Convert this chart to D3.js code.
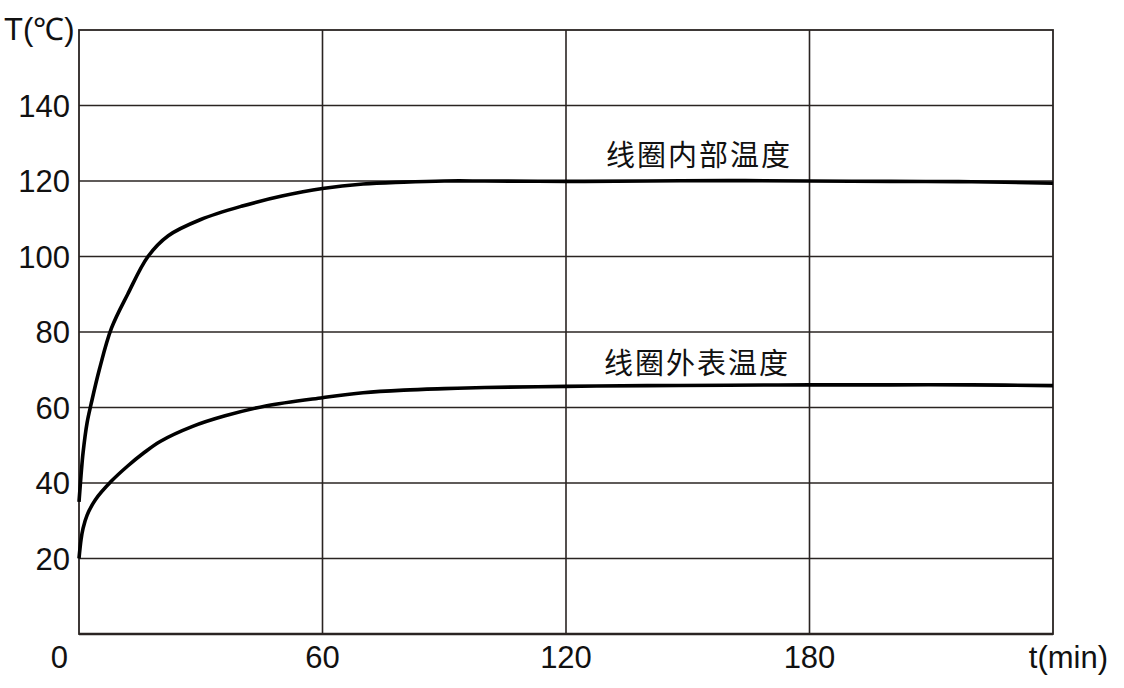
<!DOCTYPE html>
<html><head><meta charset="utf-8">
<script src="https://cdn.jsdelivr.net/npm/d3@7/dist/d3.min.js"></script>
<style>
html,body{margin:0;padding:0;background:#fff;}
svg text{font-family:"Liberation Sans",Arial,sans-serif;fill:#111;}
.cn{font-family:"Noto Sans CJK SC",sans-serif;}
</style></head>
<body>
<svg id="chart" width="1124" height="688"></svg>
<script>
const yTicks = [20,40,60,80,100,120,140];
const xTicks = [60,120,180];
const innerTimes = [0,0.5,1,2,3,5,8,12,17,22,30,40,50,60,70,80,90,100,120,140,160,180,200,220,240];
const innerTemp  = [35,42,48,56,61,70,81,90,100,105.5,109.8,113.3,116,118,119.2,119.7,120,120,119.9,120,120.1,120,119.9,119.8,119.4];
const outerTimes = [0,0.5,1,2,4,8,12,16,20,28,36,46,60,70,80,90,100,120,140,160,180,200,220,240];
const outerTemp  = [20,25,28,31.5,35.5,40.5,44.5,48,51,55,57.8,60.4,62.6,63.9,64.6,65,65.3,65.6,65.8,65.9,66,66,66,65.8];
const innerLabel = "线圈内部温度";
const outerLabel = "线圈外表温度";

const svg = d3.select("#chart");
const L=79, R=1053, T=30, B=634;
const x = d3.scaleLinear().domain([0,240]).range([L,R]);
const y = d3.scaleLinear().domain([0,160]).range([B,T]);

// grid
svg.append("g").selectAll("line").data(yTicks).join("line")
  .attr("x1",L).attr("x2",R).attr("y1",d=>y(d)).attr("y2",d=>y(d))
  .attr("stroke","#2a2422").attr("stroke-width",1.6);
svg.append("g").selectAll("line").data(xTicks).join("line")
  .attr("y1",T).attr("y2",B).attr("x1",d=>x(d)).attr("x2",d=>x(d))
  .attr("stroke","#2a2422").attr("stroke-width",1.6);
// frame
svg.append("rect").attr("x",L).attr("y",T).attr("width",R-L).attr("height",B-T)
  .attr("fill","none").attr("stroke","#2a2422").attr("stroke-width",1.8);
svg.append("line").attr("x1",L).attr("x2",R).attr("y1",B).attr("y2",B)
  .attr("stroke","#2a2422").attr("stroke-width",2.4);

// y tick labels
svg.append("g").selectAll("text").data(yTicks).join("text")
  .attr("x",L-9).attr("y",d=>y(d)).attr("dy","0.36em").attr("text-anchor","end")
  .attr("font-size",31).text(d=>d);
// x tick labels
svg.append("g").selectAll("text").data(xTicks).join("text")
  .attr("x",d=>x(d)).attr("y",668).attr("text-anchor","middle")
  .attr("font-size",31).text(d=>d);
svg.append("text").attr("x",L-11).attr("y",668).attr("text-anchor","end").attr("font-size",31).text("0");
svg.append("text").attr("x",1108).attr("y",668).attr("text-anchor","end").attr("font-size",31).text("t(min)");
svg.append("text").attr("x",4).attr("y",40).attr("font-size",31).text("T(℃)");

// curves
const line = d3.line().x(d=>x(d[0])).y(d=>y(d[1])).curve(d3.curveCatmullRom.alpha(0.5));
svg.append("path").datum(d3.zip(innerTimes,innerTemp)).attr("d",line)
  .attr("fill","none").attr("stroke","#000").attr("stroke-width",3.6);
svg.append("path").datum(d3.zip(outerTimes,outerTemp)).attr("d",line)
  .attr("fill","none").attr("stroke","#000").attr("stroke-width",3.6);

// labels
svg.append("text").attr("class","cn").attr("x",792).attr("y",166).attr("text-anchor","end")
  .attr("font-size",29).attr("letter-spacing",2).text(innerLabel);
svg.append("text").attr("class","cn").attr("x",790).attr("y",374).attr("text-anchor","end")
  .attr("font-size",29).attr("letter-spacing",2).text(outerLabel);
</script>
</body></html>
